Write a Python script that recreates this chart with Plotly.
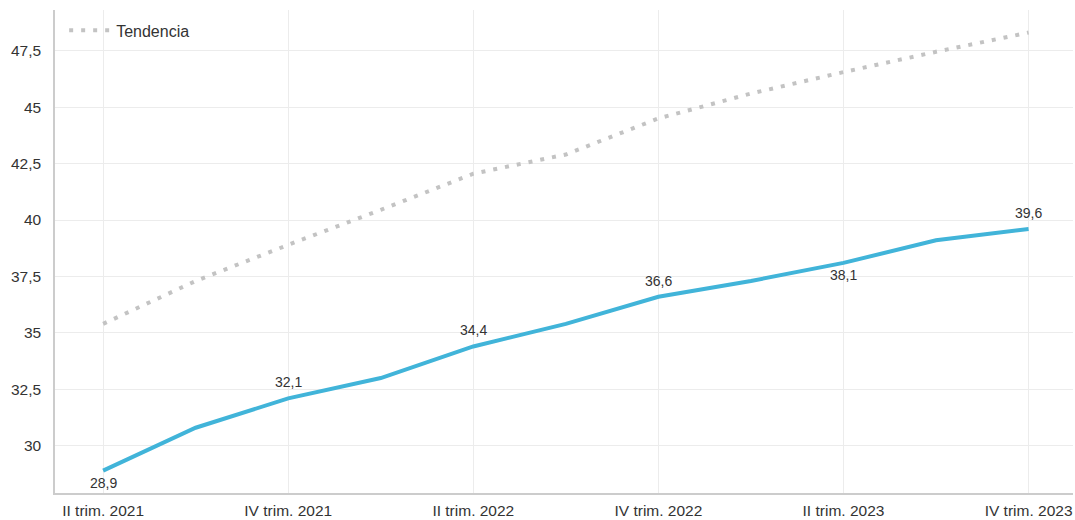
import plotly.graph_objects as go

categories = ["II trim. 2021", "III trim. 2021", "IV trim. 2021", "I trim. 2022",
              "II trim. 2022", "III trim. 2022", "IV trim. 2022", "I trim. 2023",
              "II trim. 2023", "III trim. 2023", "IV trim. 2023"]
valores = [28.9, 30.8, 32.1, 33.0, 34.4, 35.4, 36.6, 37.3, 38.1, 39.1, 39.6]
tendencia = [35.4, 37.3, 38.9, 40.45, 42.05, 42.9, 44.5, 45.6, 46.55, 47.45, 48.3]
label_idx = [0, 2, 4, 6, 8, 10]
label_above = [False, True, True, True, False, True]
tick_labels = ["II trim. 2021", "IV trim. 2021", "II trim. 2022", "IV trim. 2022",
               "II trim. 2023", "IV trim. 2023"]
y_ticks = [30, 32.5, 35, 37.5, 40, 42.5, 45, 47.5]

x = list(range(len(categories)))

fig = go.Figure()
fig.add_trace(go.Scatter(
    x=x, y=tendencia, mode="lines", name="Tendencia",
    line=dict(color="#c3c3c3", width=4, dash="4px,8px"),
    showlegend=True, hoverinfo="skip"))
fig.add_trace(go.Scatter(
    x=x, y=valores, mode="lines", name="Valor",
    line=dict(color="#41b4d9", width=4),
    showlegend=False))

for i, above in zip(label_idx, label_above):
    fig.add_annotation(
        x=x[i], y=valores[i], text=f"{valores[i]:.1f}".replace(".", ","),
        showarrow=False, yshift=16 if above else -12,
        font=dict(size=14, color="#333333"))

fig.update_layout(
    width=1075, height=520,
    margin=dict(l=55, r=2, t=10, b=27, autoexpand=False),
    paper_bgcolor="white", plot_bgcolor="white",
    font=dict(family="Liberation Sans, Arial, sans-serif", size=15, color="#333333"),
    separators=",.",
    legend=dict(x=0.009, y=0.993, xanchor="left", yanchor="top", itemwidth=42,
                bgcolor="rgba(0,0,0,0)", font=dict(size=16, color="#333333")),
)
fig.update_xaxes(
    range=[-0.52, 10.48], automargin=False,
    tickmode="array", tickvals=[categories.index(t) for t in tick_labels], ticktext=tick_labels,
    showgrid=True, gridcolor="#ececec", gridwidth=1,
    showline=True, linecolor="#cccccc", linewidth=1.5,
    zeroline=False, ticks="", ticklabelstandoff=3,
    tickfont=dict(size=15.5, color="#333333"))
fig.update_yaxes(
    range=[27.91, 49.3], automargin=False,
    tickmode="array", tickvals=y_ticks,
    showgrid=True, gridcolor="#ececec", gridwidth=1,
    showline=True, linecolor="#cccccc", linewidth=1.5,
    zeroline=False, ticks="", ticklabelstandoff=9,
    tickfont=dict(size=15.5, color="#333333"))

fig.write_html("out.html", config={"displayModeBar": False},
               post_script="document.body.style.margin='0';document.body.style.overflow='hidden';")
